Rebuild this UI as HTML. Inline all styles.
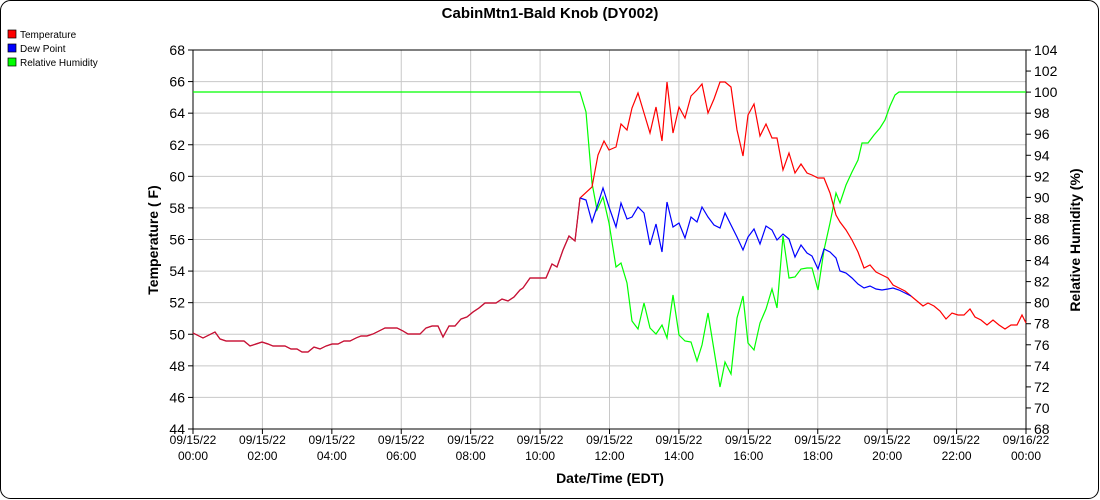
<!DOCTYPE html>
<html><head><style>body{margin:0;background:#fff}svg{display:block;font-family:"Liberation Sans",sans-serif}</style></head><body>
<svg width="1100" height="500" xmlns="http://www.w3.org/2000/svg">
<rect x="0.5" y="0.5" width="1098" height="498" rx="10" fill="#fff" stroke="#000"/>
<text x="550" y="18" font-size="15" font-weight="bold" text-anchor="middle">CabinMtn1-Bald Knob (DY002)</text>
<g font-size="10">
<rect x="8" y="30" width="8" height="8" fill="#f00" stroke="#000" stroke-width="0.7"/><text x="20" y="38">Temperature</text>
<rect x="8" y="44" width="8" height="8" fill="#00f" stroke="#000" stroke-width="0.7"/><text x="20" y="52">Dew Point</text>
<rect x="8" y="58" width="8" height="8" fill="#0f0" stroke="#000" stroke-width="0.7"/><text x="20" y="66">Relative Humidity</text>
</g>
<g id="grid" stroke="#c8c8c8" stroke-width="1"></g>
<g id="ticks" stroke="#000"></g>
<g id="labels" font-size="14"></g>
<g id="xl" font-size="12" text-anchor="middle"></g>
<rect x="193" y="50" width="833" height="379" fill="none" stroke="#000"/>
<polyline fill="none" stroke="#0f0" stroke-width="1.2" points="193,92 580,92 586,112 592,183 597,210 603,197 609,223 616,267 621,263 627,283 632,321 638,329 644,303 650,328 656,334 662,325 667,338 673,295 679,335 685,341 691,342 697,361 702,345 708,313 714,350 720,387 725,362 731,374 737,318 743,296 748,343 754,350 760,323 766,309 772,289 777,308 783,236 789,278 795,277 801,269 807,268 812,268 818,290 824,250 830,223 836,193 840,203 846,185 852,172 858,160 862,143 868,143 874,135 880,128 885,120 890,106 895,95 899,92 1026,92"/>
<polyline fill="none" stroke="#f00" stroke-width="1.2" points="193,333 197,335 203,338 209,335 215,332 220,339 226,341 232,341 238,341 244,341 250,346 256,344 262,342 268,344 273,346 279,346 285,346 291,349 297,349 302,352 308,352 314,347 320,349 326,346 332,344 338,344 344,341 350,341 356,338 361,336 367,336 373,334 379,331 385,328 391,328 397,328 403,331 408,334 414,334 420,334 426,328 432,326 438,326 443,337 449,326 455,326 461,319 467,317 473,312 479,308 485,303 491,303 496,303 502,299 508,301 514,297 520,290 523,288 530,278 546,278 552,264 557,267 563,250 569,236 575,241 580,198 592,187 598,155 604,141 609,150 616,147 621,124 627,130 632,108 638,93 644,113 650,133 656,107 662,141 667,82 673,133 679,107 685,118 691,96 697,90 702,84 708,113 714,99 720,82 725,82 731,87 737,130 743,156 748,115 754,104 760,136 766,124 772,138 777,138 783,170 789,153 795,173 801,164 807,173 812,175 818,178 824,178 830,193 836,215 840,222 846,230 852,240 858,252 864,268 870,265 876,272 882,275 888,278 893,285 899,288 905,291 911,296 917,301 923,306 928,303 934,306 940,311 946,319 952,313 958,315 964,315 970,309 975,317 981,320 987,325 993,320 999,325 1005,329 1011,325 1017,325 1022,315 1026,323"/>
<polyline fill="none" stroke="#00f" stroke-width="1.2" points="580,198 586,200 592,222 597,207 603,188 609,207 616,227 621,203 627,219 632,217 638,207 644,213 650,245 656,224 662,252 667,202 673,227 679,223 685,238 691,217 697,222 702,207 708,217 714,225 720,228 725,213 731,225 737,237 743,250 748,237 754,229 760,244 766,226 772,230 777,240 783,234 789,239 795,257 801,245 807,253 812,256 818,269 824,249 830,252 836,258 840,271 846,273 852,278 858,284 864,288 870,286 876,289 882,290 888,289 893,288 899,290 905,293 911,296"/>
<polyline fill="none" stroke="#c0143c" stroke-width="1.2" points="193,333 197,335 203,338 209,335 215,332 220,339 226,341 232,341 238,341 244,341 250,346 256,344 262,342 268,344 273,346 279,346 285,346 291,349 297,349 302,352 308,352 314,347 320,349 326,346 332,344 338,344 344,341 350,341 356,338 361,336 367,336 373,334 379,331 385,328 391,328 397,328 403,331 408,334 414,334 420,334 426,328 432,326 438,326 443,337 449,326 455,326 461,319 467,317 473,312 479,308 485,303 491,303 496,303 502,299 508,301 514,297 520,290 523,288 530,278 546,278 552,264 557,267 563,250 569,236 575,241 580,198"/>
<text x="158" y="240" font-size="14" font-weight="bold" text-anchor="middle" transform="rotate(-90 158 240)">Temperature ( F)</text>
<text x="1080" y="240" font-size="14" font-weight="bold" text-anchor="middle" transform="rotate(-90 1080 240)">Relative Humidity (%)</text>
<text x="610" y="483" font-size="14" font-weight="bold" text-anchor="middle">Date/Time (EDT)</text>
<script>
var ns="http://www.w3.org/2000/svg";
function el(p,t,a,txt){var e=document.createElementNS(ns,t);for(var k in a)e.setAttribute(k,a[k]);if(txt!=null)e.textContent=txt;document.getElementById(p).appendChild(e);}
for(var v=44;v<=68;v+=2){var y=429-(v-44)*379/24;
 if(v>44&&v<68)el("grid","line",{x1:193,x2:1026,y1:y,y2:y});
 el("ticks","line",{x1:188,x2:193,y1:y,y2:y});
 el("labels","text",{x:185,y:y+5,"text-anchor":"end"},v);}
for(var v=68;v<=104;v+=2){var y=429-(v-68)*379/36;
 el("ticks","line",{x1:1026,x2:1031,y1:y,y2:y});
 el("labels","text",{x:1034,y:y+5},v);}
for(var h=0;h<=24;h+=2){var x=193+h*833/24;
 if(h>0&&h<24)el("grid","line",{x1:x,x2:x,y1:50,y2:429});
 el("ticks","line",{x1:x,x2:x,y1:429,y2:434});
 el("xl","text",{x:x,y:444},h<24?"09/15/22":"09/16/22");
 var hh=(h%24);el("xl","text",{x:x,y:460},(hh<10?"0":"")+hh+":00");}
</script>
</svg>
</body></html>
